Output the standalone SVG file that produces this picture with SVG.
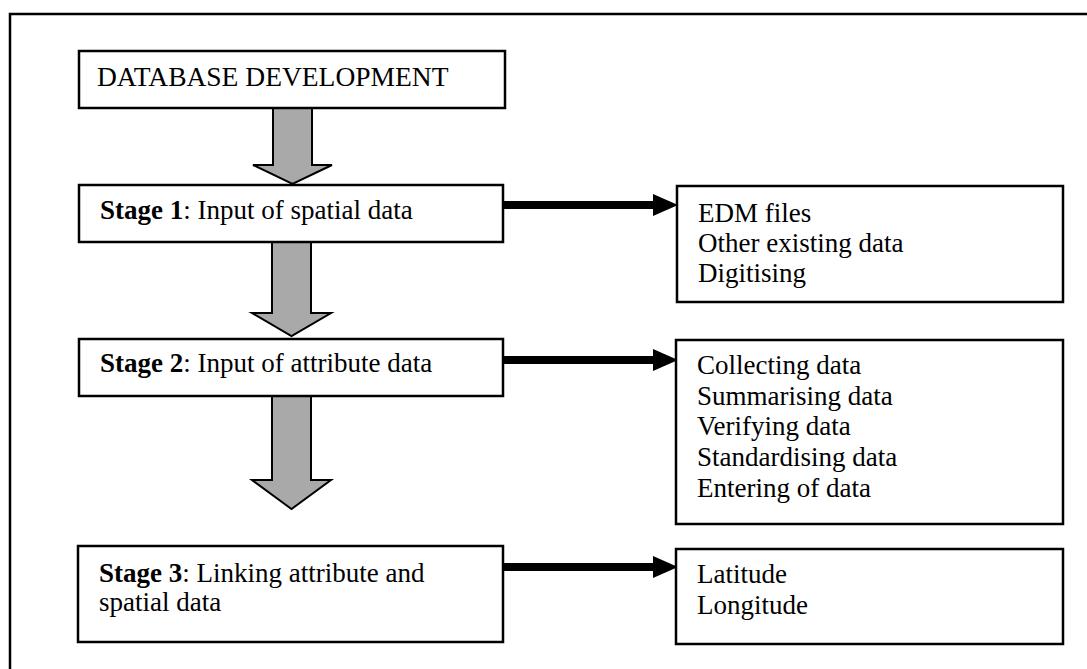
<svg xmlns="http://www.w3.org/2000/svg" width="1087" height="669" viewBox="0 0 1087 669">
<defs>
<style>
.box{fill:#fff;stroke:#000;stroke-width:2.5}
.t{font-family:"Liberation Serif","Times New Roman",serif;font-size:27px;fill:#000}
.b{font-weight:bold}
.down{fill:#a9a9a9;stroke:#000;stroke-width:2}
.h{stroke:#000;stroke-width:8;fill:none}
.hd{fill:#000}
</style>
</defs>
<rect width="1087" height="669" fill="#fff"/>
<path d="M10,669 V14 H1087" fill="none" stroke="#000" stroke-width="2.5"/>

<g id="connectors">
<polygon class="down" points="273,108 312,108 312,165 332,165 292.5,184 253,165 273,165"/>
<polygon class="down" points="272,242 311,242 311,313 331,313 291.5,336 252,313 272,313"/>
<polygon class="down" points="272,396 311,396 311,480 331,480 291.5,509 252,480 272,480"/>
<line class="h" x1="503" y1="205" x2="655" y2="205"/>
<polygon class="hd" points="653,194 678,205 653,216"/>
<line class="h" x1="503" y1="360" x2="655" y2="360"/>
<polygon class="hd" points="653,349 678,360 653,371"/>
<line class="h" x1="503" y1="567" x2="655" y2="567"/>
<polygon class="hd" points="653,556 678,567 653,578"/>
</g>

<g id="db">
<rect class="box" x="79" y="51" width="426" height="57"/>
<text class="t" x="97" y="86" style="font-size:27.5px">DATABASE DEVELOPMENT</text>
</g>

<g id="stage1">
<rect class="box" x="79" y="185" width="424" height="57"/>
<text class="t" x="100" y="219"><tspan class="b">Stage 1</tspan>: Input of spatial data</text>
</g>

<g id="stage2">
<rect class="box" x="79" y="339" width="424" height="57"/>
<text class="t" x="100" y="372"><tspan class="b">Stage 2</tspan>: Input of attribute data</text>
</g>

<g id="stage3">
<rect class="box" x="78" y="546" width="425" height="96"/>
<text class="t" x="99" y="582"><tspan class="b">Stage 3</tspan>: Linking attribute and</text>
<text class="t" x="99" y="611">spatial data</text>
</g>

<g id="spatial-sources">
<rect class="box" x="677" y="186" width="386" height="116"/>
<text class="t" x="698" y="222">EDM files</text>
<text class="t" x="698" y="252">Other existing data</text>
<text class="t" x="698" y="282">Digitising</text>
</g>

<g id="attribute-steps">
<rect class="box" x="676" y="340" width="387" height="184"/>
<text class="t" x="697" y="374">Collecting data</text>
<text class="t" x="697" y="405">Summarising data</text>
<text class="t" x="697" y="435">Verifying data</text>
<text class="t" x="697" y="466">Standardising data</text>
<text class="t" x="697" y="497">Entering of data</text>
</g>

<g id="link-fields">
<rect class="box" x="676" y="549" width="387" height="95"/>
<text class="t" x="697" y="583">Latitude</text>
<text class="t" x="697" y="614">Longitude</text>
</g>
</svg>
